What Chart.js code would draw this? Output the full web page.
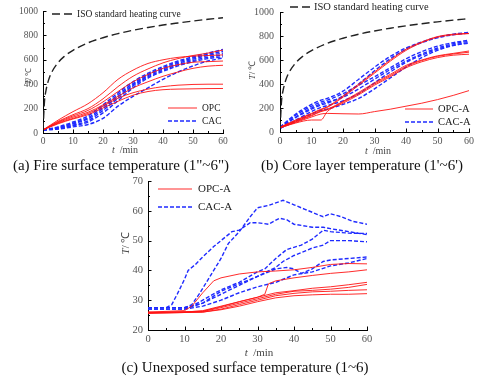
<!DOCTYPE html>
<html><head><meta charset="utf-8">
<script src="https://cdn.jsdelivr.net/npm/chart.js@4"></script>
<style>
html,body{margin:0;padding:0;background:#fff;}
body{width:480px;height:381px;overflow:hidden;position:relative;font-family:"Liberation Serif","Times New Roman",serif;}
canvas{position:absolute;left:0;top:0;}
.cap{position:absolute;font-size:15px;line-height:15px;color:#111;white-space:nowrap;transform:translateX(-50%);}
</style></head><body>
<canvas id="ca" width="480" height="381"></canvas>
<canvas id="cb" width="480" height="381"></canvas>
<canvas id="cc" width="480" height="381"></canvas>
<div class="cap" style="left:121px;top:158px">(a) Fire surface temperature (1"~6")</div>
<div class="cap" style="left:362px;top:158px">(b) Core layer temperature (1'~6')</div>
<div class="cap" style="left:245px;top:360px">(c) Unexposed surface temperature (1~6)</div>
<script>
// ---------- DATA ----------
const isoTime = [0,0.5,1,2,3,5,7,10,15,20,25,30,35,40,45,50,55,60];
const isoTemp = [20,261,349,445,502,576,626,678,739,781,815,842,865,885,902,918,932,945];

// (a) fire surface
const timeA = [0,5,10,15,20,25,30,35,40,45,50,55,60];
const opcA1 = [25,105,175,240,330,440,515,570,600,620,630,635,640];
const opcA2 = [25,95,150,200,280,380,465,525,575,610,635,655,680];
const opcA3 = [25,90,140,185,255,340,420,480,530,560,580,585,590];
const opcA4 = [25,85,130,170,230,300,370,420,465,500,530,548,555];
const opcA5 = [25,80,120,160,220,285,330,360,380,392,398,400,400];
const opcA6 = [25,75,115,150,205,260,310,340,355,360,362,364,365];
const cacA1 = [25,50,90,140,230,330,420,490,545,590,625,655,685];
const cacA2 = [25,45,80,125,215,315,405,480,535,580,615,645,670];
const cacA3 = [25,40,75,115,200,300,395,470,525,570,605,635,655];
const cacA4 = [25,38,65,100,185,285,385,460,515,560,595,620,640];
const cacA5 = [25,35,60,90,165,265,370,450,505,550,585,610,625];
const cacA6 = [25,32,50,70,120,220,300,370,440,500,550,590,615];

// (b) core layer
const timeB = [0,5,10,13,15,20,25,30,35,40,45,50,55,60];
const opcB1 = [40,95,150,185,205,290,390,490,590,680,745,790,810,820];
const opcB2 = [40,100,155,190,210,300,400,500,600,690,750,795,815,822];
const opcB3 = [40,90,140,175,190,255,330,410,480,555,600,635,655,675];
const opcB4 = [35,85,135,170,185,250,320,400,470,545,595,630,650,665];
const opcB5 = [35,75,100,100,170,240,310,390,460,535,585,620,640,648];
const opcB6 = [35,80,125,150,155,152,150,170,190,215,240,270,305,345];
const cacB1 = [40,150,230,265,280,340,440,540,630,700,750,790,815,830];
const cacB2 = [35,120,190,225,240,300,400,510,610,690,745,785,810,825];
const cacB3 = [40,140,215,250,265,320,390,460,535,610,670,715,745,765];
const cacB4 = [35,125,200,235,250,290,360,440,520,590,650,700,735,755];
const cacB5 = [30,100,170,205,220,260,320,410,500,580,640,690,725,745];
const cacB6 = [30,90,150,180,190,230,280,360,450,540,620,680,720,740];

// (c) unexposed surface
const tC1 = [0,5,6.5,8,10,11,13,15,18,20,23,25,28,30,33,36,38,40,45,48,50,55,60];
const cacC1 = [27.5,27.5,28.5,32,37,40,42,44.5,48,50,53,53.5,56,56,55.5,57.5,57,55.5,54.5,54.5,54,53,52];
const tC2 = [0,10,12,14,16,18,20,22,25,28,30,33,37,40,43,46,48,50,53,56,60];
const cacC2 = [27.5,27.5,28.5,32,36,40,44,49,53,58,61,61.8,63.5,62,60.5,59,58,59,58,56.5,55.5];
const tC3 = [0,10,12,15,20,25,30,32,35,38,42,45,48,50,55,60];
const cacC3 = [27.5,27.5,28,30,33.5,36,39.5,40.5,44,47,48.5,50.5,53.5,53,52.5,52.4];
const tC4 = [0,10,15,20,25,30,35,37,40,45,48,50,55,60];
const cacC4 = [27,27,29,32,35,38,41,43,45,47.5,48.5,50,50,49.6];
const tC5 = [0,10,15,20,25,30,35,38,40,42,45,48,50,55,60];
const cacC5 = [27.5,27.5,29,33,35.5,38,40.5,41,40.5,39,40.5,43,43.5,44,44.5];
const tC6 = [0,10,15,20,25,30,35,40,45,50,55,60];
const cacC6 = [27,27,28,30,32.5,34.5,36,38.5,39.5,41.5,42.5,44];
const tR1 = [0,10,12,15,18,20,25,30,35,40,45,50,55,60];
const opcC1 = [26,26.5,28,32.5,36.5,37.5,38.8,39.5,39.8,40.2,41,42,42.3,42.2];
const tR2 = [0,10,15,20,25,30,32,33,35,40,45,50,55,60];
const opcC2 = [26,26,26.5,28,29.5,31,32,35.5,36.5,37.5,38.3,39,39.5,40.2];
const tR = [0,15,20,25,30,35,40,45,50,55,60];
const opcC3 = [25.8,26.3,27.8,29.5,31,32.5,33.2,34,34.5,35.2,36];
const opcC4 = [25.8,26.2,27.5,29,30.5,32,33,33.3,33.7,34.3,35.3];
const opcC5 = [25.6,26,27,28.5,30,31.5,32.3,32.8,33,33.3,33.5];
const opcC6 = [25.6,26,26.8,28,29.5,30.8,31.5,31.8,32,32,32.2];

// ---------- HELPERS ----------
const RED = 'rgba(255,20,20,0.9)';
const BLUE = '#1f2bff';
const pts = (t, v) => t.map((x, i) => ({x, y: v[i]}));
const red = (t, v, tension) => ({data: pts(t, v), borderColor: RED, borderWidth: 1, pointRadius: 0, tension, cubicInterpolationMode: tension ? 'monotone' : 'default'});
const blue = (t, v, tension) => ({data: pts(t, v), borderColor: BLUE, borderWidth: 1.4, borderDash: [4, 2], pointRadius: 0, tension, cubicInterpolationMode: tension ? 'monotone' : 'default'});
const iso = () => ({data: pts(isoTime, isoTemp), borderColor: '#222', borderWidth: 1.4, borderDash: [8, 4], pointRadius: 0, cubicInterpolationMode: 'monotone'});

const decor = {
  id: 'decor',
  afterDraw(chart, args, o) {
    const ctx = chart.ctx, xs = chart.scales.x, ys = chart.scales.y, a = chart.chartArea;
    ctx.save();
    ctx.strokeStyle = '#000'; ctx.lineWidth = 1; ctx.setLineDash([]);
    for (let v = xs.min; v <= xs.max + 1e-9; v += o.xminor) {
      const px = Math.round(xs.getPixelForValue(v)) + 0.5;
      const major = Math.abs(v / o.xmajor - Math.round(v / o.xmajor)) < 1e-6;
      ctx.beginPath(); ctx.moveTo(px, a.bottom); ctx.lineTo(px, a.bottom - (major ? 3.5 : 2)); ctx.stroke();
    }
    for (let v = ys.min; v <= ys.max + 1e-9; v += o.yminor) {
      const py = Math.round(ys.getPixelForValue(v)) + 0.5;
      const major = Math.abs(v / o.ymajor - Math.round(v / o.ymajor)) < 1e-6;
      ctx.beginPath(); ctx.moveTo(a.left, py); ctx.lineTo(a.left + (major ? 3.5 : 2), py); ctx.stroke();
    }
    // legend
    ctx.textBaseline = 'middle'; ctx.textAlign = 'left';
    o.legend.forEach(e => {
      ctx.strokeStyle = e.color; ctx.lineWidth = e.width; ctx.setLineDash(e.dash || []);
      ctx.beginPath(); ctx.moveTo(e.x1, e.y); ctx.lineTo(e.x2, e.y); ctx.stroke();
      ctx.setLineDash([]);
      ctx.fillStyle = '#222'; ctx.font = o.lfont + 'px "Liberation Serif", serif';
      ctx.fillText(e.text, e.tx, e.y);
    });
    // axis titles
    ctx.fillStyle = '#444';
    let f = o.tfont + 'px "Liberation Serif", serif', fi = 'italic ' + f;
    ctx.textAlign = 'left';
    ctx.font = fi; const wt = ctx.measureText('t').width;
    ctx.font = f; const wr = ctx.measureText('  /min').width;
    let x0 = o.xt.x - (wt + wr) / 2;
    ctx.font = fi; ctx.fillText('t', x0, o.xt.y);
    ctx.font = f; ctx.fillText('  /min', x0 + wt, o.xt.y);
    f = o.yfont + 'px "Liberation Serif", serif'; fi = 'italic ' + f;
    ctx.translate(o.yt.x, o.yt.y); ctx.rotate(-Math.PI / 2);
    ctx.font = fi; const wT = ctx.measureText('T').width;
    ctx.font = f; const wR = ctx.measureText('/ ℃').width;
    x0 = -(wT + wR) / 2;
    ctx.font = fi; ctx.fillText('T', x0, 0);
    ctx.font = f; ctx.fillText('/ ℃', x0 + wT, 0);
    ctx.restore();
  }
};

function make(id, area, xcfg, ycfg, datasets, deco) {
  const W = 40, H = 20;
  const plain = v => String(v);
  new Chart(document.getElementById(id), {
    type: 'line',
    data: {datasets},
    plugins: [decor],
    options: {
      responsive: false, animation: false, devicePixelRatio: 1, events: [],
      layout: {autoPadding: false, padding: {left: area.l - W, top: area.t, right: 480 - area.r, bottom: 381 - area.b - H}},
      plugins: {legend: {display: false}, tooltip: {enabled: false}, decor: deco},
      scales: {
        x: {type: 'linear', min: xcfg.min, max: xcfg.max,
            afterFit: s => { s.height = H; },
            grid: {display: false, drawTicks: false}, border: {display: true, color: '#000', width: 1},
            ticks: {stepSize: xcfg.step, padding: xcfg.pad, color: '#555', callback: plain, font: {family: '"Liberation Serif", serif', size: xcfg.fs}, maxRotation: 0}},
        y: {type: 'linear', min: ycfg.min, max: ycfg.max,
            afterFit: s => { s.width = W; },
            grid: {display: false, drawTicks: false}, border: {display: true, color: '#000', width: 1},
            ticks: {stepSize: ycfg.step, padding: ycfg.pad, color: '#555', callback: plain, font: {family: '"Liberation Serif", serif', size: ycfg.fs}}}
      }
    }
  });
}

// (a)
make('ca', {l: 43, r: 223, t: 11, b: 133},
  {min: 0, max: 60, step: 10, pad: 3, fs: 9.5},
  {min: 0, max: 1000, step: 200, pad: 5, fs: 9.5},
  [iso(),
   red(timeA, opcA1, 0.4), red(timeA, opcA2, 0.4), red(timeA, opcA3, 0.4), red(timeA, opcA4, 0.4), red(timeA, opcA5, 0.4), red(timeA, opcA6, 0.4),
   blue(timeA, cacA1, 0.4), blue(timeA, cacA2, 0.4), blue(timeA, cacA3, 0.4), blue(timeA, cacA4, 0.4), blue(timeA, cacA5, 0.4), blue(timeA, cacA6, 0.4)],
  {xminor: 5, xmajor: 10, yminor: 100, ymajor: 200, lfont: 9.5, tfont: 10, yfont: 8,
   xt: {x: 125, y: 150}, yt: {x: 29, y: 76},
   legend: [
     {x1: 52, x2: 72, y: 14, color: '#222', width: 1.4, dash: [8, 4], text: 'ISO standard heating curve', tx: 77},
     {x1: 168, x2: 197, y: 108, color: RED, width: 1, text: 'OPC', tx: 202},
     {x1: 168, x2: 197, y: 121, color: BLUE, width: 1.4, dash: [4, 2], text: 'CAC', tx: 202}]});

// (b)
make('cb', {l: 280, r: 469, t: 3, b: 132},
  {min: 0, max: 60, step: 10, pad: 3, fs: 10},
  {min: 0, max: 1000, step: 200, pad: 6, fs: 10},
  [iso(),
   red(timeB, opcB1, 0.4), red(timeB, opcB2, 0.4), red(timeB, opcB3, 0.4), red(timeB, opcB4, 0.4), red(timeB, opcB5, 0.2), red(timeB, opcB6, 0.3),
   blue(timeB, cacB1, 0.4), blue(timeB, cacB2, 0.4), blue(timeB, cacB3, 0.4), blue(timeB, cacB4, 0.4), blue(timeB, cacB5, 0.4), blue(timeB, cacB6, 0.4)],
  {xminor: 5, xmajor: 10, yminor: 100, ymajor: 200, lfont: 10.5, tfont: 10, yfont: 9,
   xt: {x: 378, y: 151}, yt: {x: 253, y: 70},
   legend: [
     {x1: 290, x2: 310, y: 7, color: '#222', width: 1.4, dash: [8, 4], text: 'ISO standard heating curve', tx: 314},
     {x1: 405, x2: 433, y: 109, color: RED, width: 1, text: 'OPC-A', tx: 438},
     {x1: 405, x2: 433, y: 122, color: BLUE, width: 1.4, dash: [4, 2], text: 'CAC-A', tx: 438}]});

// (c)
make('cc', {l: 148, r: 367, t: 181, b: 330},
  {min: 0, max: 60, step: 10, pad: 3, fs: 10.5},
  {min: 20, max: 70, step: 10, pad: 5, fs: 10.5},
  [red(tR1, opcC1, 0), red(tR2, opcC2, 0), red(tR, opcC3, 0), red(tR, opcC4, 0), red(tR, opcC5, 0), red(tR, opcC6, 0),
   blue(tC1, cacC1, 0), blue(tC2, cacC2, 0), blue(tC3, cacC3, 0), blue(tC4, cacC4, 0), blue(tC5, cacC5, 0), blue(tC6, cacC6, 0)],
  {xminor: 5, xmajor: 10, yminor: 5, ymajor: 10, lfont: 11, tfont: 11, yfont: 11,
   xt: {x: 259, y: 353}, yt: {x: 126, y: 243},
   legend: [
     {x1: 158, x2: 192, y: 189, color: RED, width: 1, text: 'OPC-A', tx: 198},
     {x1: 158, x2: 192, y: 207, color: BLUE, width: 1.4, dash: [4, 2], text: 'CAC-A', tx: 198}]});
</script>
</body></html>
